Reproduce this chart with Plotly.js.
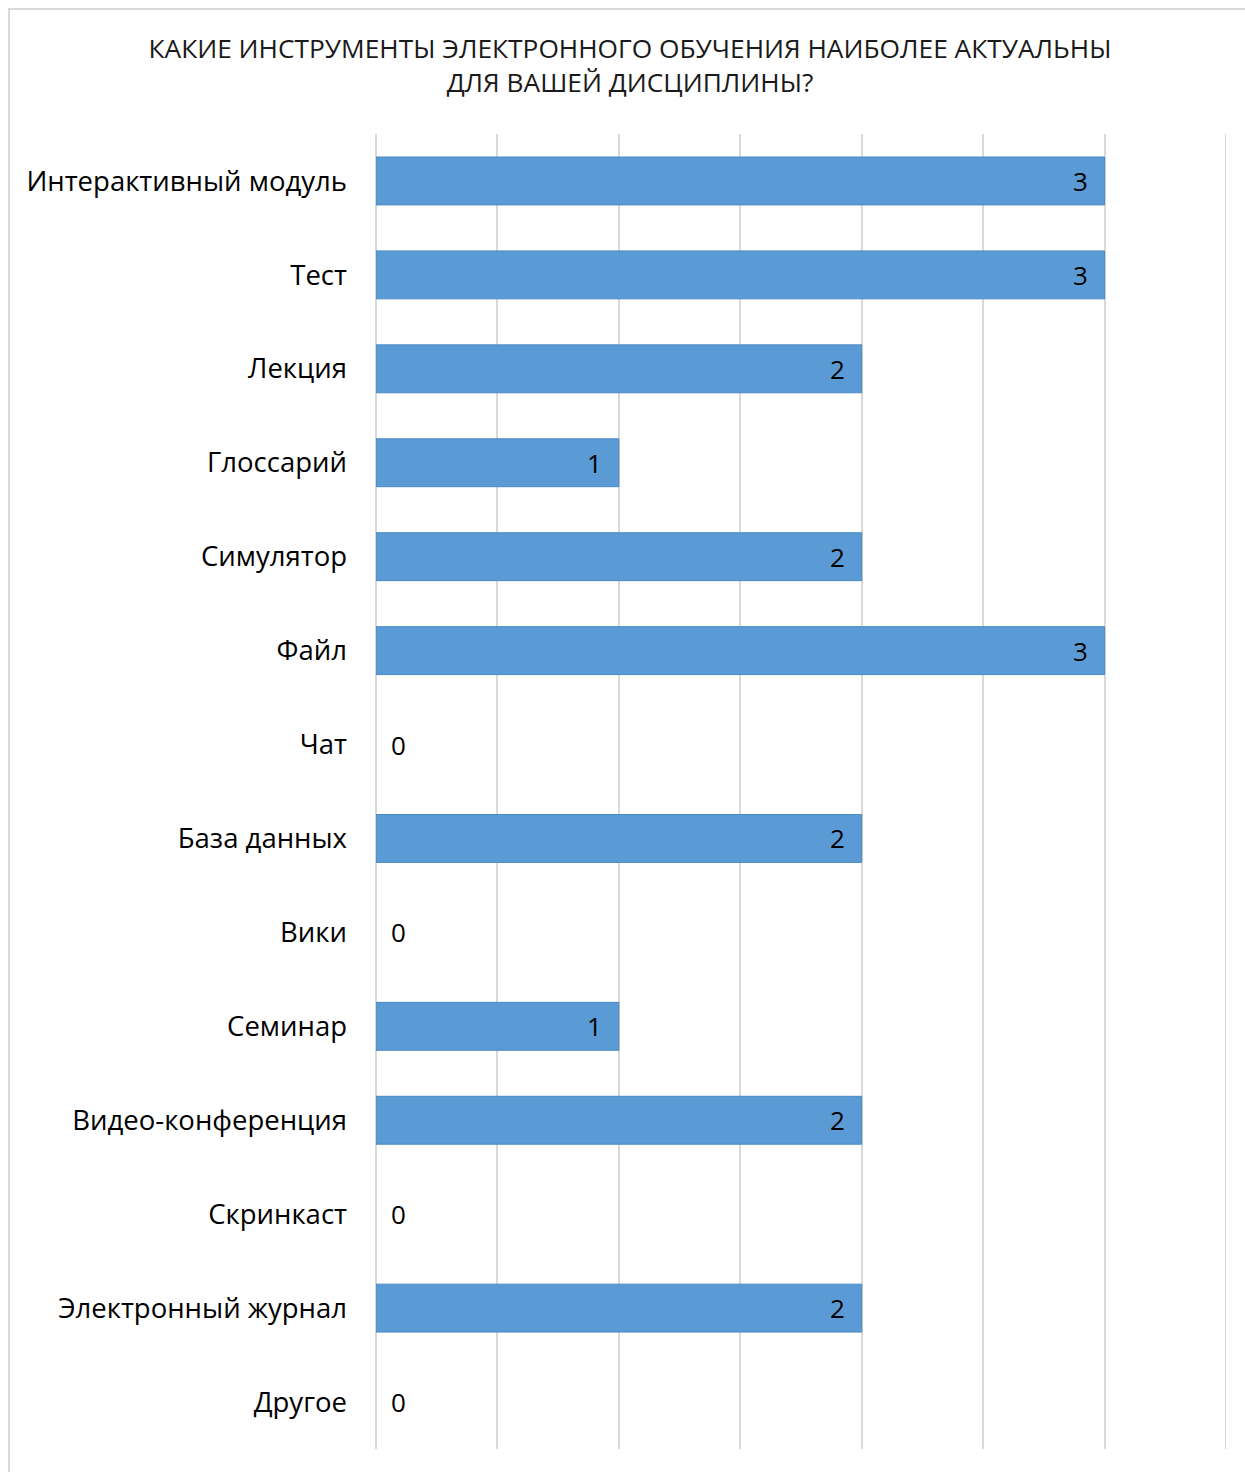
<!DOCTYPE html>
<html>
<head>
<meta charset="utf-8">
<script src="https://cdn.plot.ly/plotly-3.0.1.min.js"></script>
<style>
html,body{margin:0;padding:0;background:#fff;}
#chart{position:absolute;left:0;top:0;width:1245px;height:1472px;}
#frame{position:absolute;left:8px;top:8px;width:1245px;height:1472px;border-left:2px solid #d9d9d9;border-top:2px solid #d9d9d9;pointer-events:none;}
</style>
</head>
<body>
<div id="chart"></div>
<div id="frame"></div>
<script>
const categories = [
  'Интерактивный модуль', 'Тест', 'Лекция', 'Глоссарий', 'Симулятор', 'Файл', 'Чат',
  'База данных', 'Вики', 'Семинар', 'Видео-конференция', 'Скринкаст', 'Электронный журнал', 'Другое'
];
const values = [3, 3, 2, 1, 2, 3, 0, 2, 0, 1, 2, 0, 2, 0];
const titleText = 'КАКИЕ ИНСТРУМЕНТЫ ЭЛЕКТРОННОГО ОБУЧЕНИЯ НАИБОЛЕЕ АКТУАЛЬНЫ<br>ДЛЯ ВАШЕЙ ДИСЦИПЛИНЫ?';
const xMax = 3.5;

const FONT = 'Open Sans, Noto Sans, sans-serif';

const trace = {
  type: 'bar',
  orientation: 'h',
  x: values,
  y: categories,
  marker: {
    color: '#5b9bd5',
    line: {color: values.map(v => v > 0 ? '#4a89c4' : 'rgba(0,0,0,0)'), width: 1}
  },
  width: 0.51,
  hoverinfo: 'none'
};

const annotations = values.map((v, i) => ({
  x: v, y: categories[i], xref: 'x', yref: 'y',
  text: String(v), showarrow: false,
  xanchor: v > 0 ? 'right' : 'left',
  xshift: v > 0 ? -15 : 13,
  font: {family: FONT, size: 26, color: '#000'}
}));

const layout = {
  width: 1245, height: 1472,
  paper_bgcolor: '#fff', plot_bgcolor: '#fff',
  margin: {l: 376, r: 19, t: 134, b: 23, pad: 0},
  showlegend: false,
  title: {
    text: titleText,
    font: {family: FONT, size: 26.3, color: '#1a1a1a'},
    x: 0.506, xanchor: 'center', xref: 'container',
    y: 1 - 58/1472, yanchor: 'top', yref: 'container'
  },
  xaxis: {
    range: [0, xMax], dtick: 0.5, tick0: 0,
    showgrid: true, gridcolor: '#d9d9d9', gridwidth: 2,
    showticklabels: false, zeroline: true, zerolinecolor: '#d9d9d9', zerolinewidth: 2,
    showline: false, ticks: '', fixedrange: true
  },
  yaxis: {
    autorange: 'reversed', type: 'category',
    showgrid: false, zeroline: false, showline: false, ticks: '',
    ticklabelstandoff: 28,
    tickfont: {family: FONT, size: 27.5, color: '#000'},
    fixedrange: true
  },
  shapes: [{
    type: 'line', xref: 'x', yref: 'paper', x0: xMax, x1: xMax, y0: 0, y1: 1,
    line: {color: '#d9d9d9', width: 2}, layer: 'below'
  }],
  annotations: annotations
};

Plotly.newPlot('chart', [trace], layout, {displayModeBar: false, staticPlot: true});
</script>
</body>
</html>
